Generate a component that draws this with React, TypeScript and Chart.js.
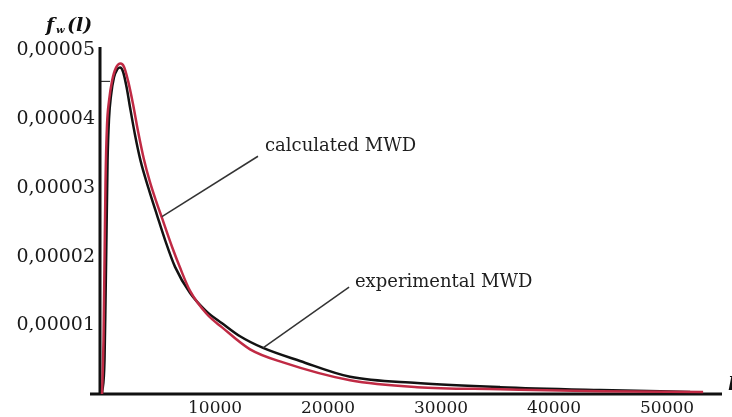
import React, { useEffect, useRef } from 'react';
import { Chart, registerables } from 'chart.js';

Chart.register(...registerables);

// Chain length l (x) and weight fraction f_w(l) (y)
const experimentalL = [0, 220, 310, 400, 490, 620, 800, 1060, 1330, 1590, 1860, 2190, 2480, 2920, 3400, 4100, 4870, 5580, 6460, 7790, 9260, 10620, 12210, 14250, 17520, 21950, 27880, 35220, 44070, 52040];
const experimentalF = [0, 0.49e-5, 1.37e-5, 2.38e-5, 3.4e-5, 4.01e-5, 4.35e-5, 4.61e-5, 4.72e-5, 4.75e-5, 4.69e-5, 4.45e-5, 4.17e-5, 3.77e-5, 3.4e-5, 3.0e-5, 2.6e-5, 2.24e-5, 1.85e-5, 1.47e-5, 1.2e-5, 1.03e-5, 0.84e-5, 0.67e-5, 0.48e-5, 0.25e-5, 0.16e-5, 0.1e-5, 0.058e-5, 0.03e-5];

const calculatedL = [0, 130, 220, 310, 440, 620, 890, 1240, 1640, 1950, 2300, 2740, 3190, 3700, 4250, 4800, 5310, 6200, 6900, 7790, 9290, 10620, 13100, 16020, 21950, 27880, 35220, 44070, 53190];
const calculatedF = [0, 0.78e-5, 1.94e-5, 3.11e-5, 3.91e-5, 4.27e-5, 4.56e-5, 4.75e-5, 4.81e-5, 4.76e-5, 4.56e-5, 4.22e-5, 3.82e-5, 3.42e-5, 3.08e-5, 2.8e-5, 2.56e-5, 2.14e-5, 1.84e-5, 1.5e-5, 1.16e-5, 0.97e-5, 0.65e-5, 0.46e-5, 0.2e-5, 0.1e-5, 0.07e-5, 0.04e-5, 0.03e-5];

const xTickValues = [10000, 20000, 30000, 40000, 50000];
const xTickLabels = ['10000', '20000', '30000', '40000', '50000'];
const yTickValues = [0.00001, 0.00002, 0.00003, 0.00004, 0.00005];
const yTickLabels = ['0,00001', '0,00002', '0,00003', '0,00004', '0,00005'];

// Annotations (data coordinates): leader line tip on curve, line end, text anchor
const noteTexts = ['calculated MWD', 'experimental MWD'];
const noteTipL = [5300, 14250];
const noteTipF = [2.58e-5, 0.67e-5];
const noteEndL = [13800, 21860];
const noteEndF = [3.46e-5, 1.555e-5];
const noteTextL = [14420, 22380];
const noteTextF = [3.6e-5, 1.62e-5];

const FONT = '"DejaVu Serif", serif';

const decorPlugin = {
  id: 'decor',
  beforeDatasetsDraw(chart: any) {
    const { ctx, chartArea } = chart;
    ctx.save();
    ctx.strokeStyle = '#111';
    ctx.lineWidth = 3;
    ctx.beginPath();
    ctx.moveTo(chartArea.left, chartArea.top);
    ctx.lineTo(chartArea.left, chartArea.bottom + 1);
    ctx.moveTo(chartArea.left - 10, chartArea.bottom);
    ctx.lineTo(chartArea.right, chartArea.bottom);
    ctx.stroke();
    ctx.lineWidth = 1;
    const yTick = chart.scales.y.getPixelForValue(0.0000455);
    ctx.beginPath();
    ctx.moveTo(chartArea.left, yTick);
    ctx.lineTo(chartArea.left + 10, yTick);
    ctx.stroke();
    ctx.restore();
  },
  afterDraw(chart: any) {
    const { ctx, chartArea, scales } = chart;
    const xs = scales.x;
    const ys = scales.y;
    ctx.save();
    ctx.strokeStyle = '#333';
    ctx.lineWidth = 1.5;
    ctx.fillStyle = '#1e1e1e';
    ctx.font = `18px ${FONT}`;
    ctx.textBaseline = 'middle';
    ctx.textAlign = 'left';
    for (let i = 0; i < noteTexts.length; i++) {
      const x1 = xs.getPixelForValue(noteTipL[i]);
      const y1 = ys.getPixelForValue(noteTipF[i]);
      const x2 = xs.getPixelForValue(noteEndL[i]);
      const y2 = ys.getPixelForValue(noteEndF[i]);
      ctx.beginPath();
      ctx.moveTo(x1, y1);
      ctx.lineTo(x2, y2);
      ctx.stroke();
      ctx.fillText(noteTexts[i], xs.getPixelForValue(noteTextL[i]), ys.getPixelForValue(noteTextF[i]));
    }
    ctx.fillStyle = '#111';
    ctx.textBaseline = 'alphabetic';
    ctx.font = `bold italic 19px ${FONT}`;
    ctx.fillText('f', 46, 31);
    ctx.font = `bold italic 10px ${FONT}`;
    ctx.fillText('w', 56, 33);
    ctx.font = `bold italic 19px ${FONT}`;
    ctx.fillText('(l)', 67, 31);
    ctx.fillText('l', chartArea.right + 6, chartArea.bottom - 4);
    ctx.restore();
  },
};

export default function App() {
  const canvasRef = useRef<HTMLCanvasElement | null>(null);

  useEffect(() => {
    const canvas = canvasRef.current;
    if (!canvas) return;
    const chart = new Chart(canvas, {
      type: 'line',
      data: {
        datasets: [
          {
            label: 'calculated MWD',
            data: calculatedL.map((l, i) => ({ x: l, y: calculatedF[i] })),
            borderColor: '#c02a44',
            borderWidth: 2.5,
            pointRadius: 0,
            fill: false,
            cubicInterpolationMode: 'monotone',
          },
          {
            label: 'experimental MWD',
            data: experimentalL.map((l, i) => ({ x: l, y: experimentalF[i] })),
            borderColor: '#121212',
            borderWidth: 2.5,
            pointRadius: 0,
            fill: false,
            cubicInterpolationMode: 'monotone',
          },
        ],
      },
      options: {
        responsive: false,
        animation: false,
        devicePixelRatio: 1,
        layout: { padding: { top: 47, right: 10, left: 0, bottom: 0 } },
        plugins: { legend: { display: false }, tooltip: { enabled: false }, title: { display: false } },
        scales: {
          x: {
            type: 'linear',
            min: -180,
            max: 54860,
            grid: { display: false, drawTicks: false },
            border: { display: false },
            afterBuildTicks: (scale: any) => {
              scale.ticks = xTickValues.map((v) => ({ value: v }));
            },
            afterFit: (scale: any) => {
              scale.height = 23;
            },
            ticks: {
              autoSkip: false,
              maxRotation: 0,
              padding: 4,
              color: '#1a1a1a',
              font: { family: FONT, size: 17 },
              callback: (_v: any, i: number) => xTickLabels[i],
            },
          },
          y: {
            type: 'linear',
            min: 0,
            max: 0.0000505,
            grid: { display: false, drawTicks: false },
            border: { display: false },
            afterBuildTicks: (scale: any) => {
              scale.ticks = yTickValues.map((v) => ({ value: v }));
            },
            afterFit: (scale: any) => {
              scale.width = 100;
            },
            ticks: {
              autoSkip: false,
              padding: 5,
              color: '#1a1a1a',
              font: { family: FONT, size: 19 },
              callback: (_v: any, i: number) => yTickLabels[i],
            },
          },
        },
      },
      plugins: [decorPlugin],
    } as any);
    return () => chart.destroy();
  }, []);

  return (
    <div style={{ position: 'fixed', left: 0, top: 0, width: 732, height: 417, background: '#fff' }}>
      <canvas ref={canvasRef} width={732} height={417} />
    </div>
  );
}
